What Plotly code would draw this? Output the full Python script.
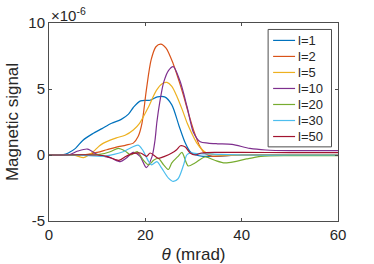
import plotly.graph_objects as go

# theta (mrad) and signal (x1e-6) for each l
x_l1 = [0, 2, 3, 4, 5.5, 7, 9, 11, 13, 15, 16.5, 17.5, 19, 21, 22.5, 24, 25.5, 27, 28.3, 29.3, 30.5, 32, 34, 37, 40, 50, 60]
y_l1 = [0, 0, 0.03, 0.15, 0.5, 1.1, 1.6, 2.0, 2.4, 2.7, 3.1, 3.6, 4.1, 4.15, 4.4, 4.4, 3.8, 2.2, 0.9, 0.25, 0.0, -0.1, -0.1, -0.05, 0, 0, 0]

x_l2 = [0, 5, 8, 10, 12, 14, 16, 17.5, 18.5, 19.3, 20.2, 21.2, 22.2, 23.2, 24.3, 25.8, 27, 28, 29, 30, 31.4, 32.5, 34, 37, 40, 50, 60]
y_l2 = [0, 0, 0.05, 0.2, 0.4, 0.6, 0.75, 0.9, 1.4, 2.4, 4.9, 7.2, 8.2, 8.4, 8.1, 6.9, 5.6, 4.4, 3.1, 1.9, 0.6, 0.1, -0.1, -0.05, 0, 0, 0]

x_l5 = [0, 5, 7.2, 8.3, 9.5, 10.5, 11.3, 12.7, 14, 15.8, 17.5, 18.8, 20.6, 22.3, 23.5, 24.5, 25.5, 26.6, 27.7, 28.7, 29.7, 30.7, 31.8, 32.8, 35, 40, 50, 60]
y_l5 = [0, 0, -0.2, 0.0, 0.35, 0.7, 0.9, 1.13, 1.3, 1.5, 1.9, 2.4, 3.6, 4.9, 5.4, 5.5, 5.2, 4.4, 3.4, 2.4, 1.6, 0.9, 0.4, 0.15, 0, 0, 0, 0]

x_l10 = [0, 4, 6, 8, 10, 11.5, 13, 14.8, 16, 17.5, 18.9, 20.2, 21.4, 22.0, 22.4, 23.0, 23.8, 24.8, 25.8, 27.2, 28.7, 30, 31.4, 33, 35, 38, 41.7, 45, 50, 60]
y_l10 = [0, 0, 0.3, 0.45, 0.05, -0.1, -0.25, -0.5, -0.25, 0.2, -0.1, -0.95, -0.1, 1.1, 2.5, 4.0, 5.5, 6.4, 6.7, 5.6, 3.6, 1.7, 1.0, 0.9, 0.85, 0.8, 0.5, 0.38, 0.33, 0.33]

x_l20 = [0, 8, 10.5, 12.7, 14.4, 15.8, 17, 18.3, 19.6, 20.7, 21.7, 22.7, 23.8, 24.8, 25.5, 26.8, 27.6, 28.9, 30.3, 32.4, 34.4, 36.5, 38.6, 41, 44, 50, 60]
y_l20 = [0, 0, 0.05, 0.25, 0.5, 0.3, 0.0, 0.25, -0.4, -0.75, -0.4, -0.25, -0.75, -1.1, -0.6, -0.1, 0.2, -0.83, -0.6, -0.15, -0.4, -0.6, -0.5, -0.3, -0.1, -0.05, -0.05]

x_l30 = [0, 6, 8.3, 11.3, 13.5, 15.4, 17, 18.5, 19.4, 20.7, 21.3, 22.4, 23.4, 24.8, 25.8, 26.8, 27.9, 28.6, 29.3, 31, 35, 40, 50, 60]
y_l30 = [0, 0, -0.05, -0.1, 0.05, 0.25, 0.55, 0.75, 0.4, -0.5, -0.75, -0.5, -1.0, -1.75, -2.0, -1.8, -0.8, 0.0, 0.15, 0.1, 0.05, 0, 0, 0]

x_l50 = [0, 10, 12, 14.5, 16, 17.3, 19, 20.3, 21, 22.7, 24, 25.5, 26.5, 27.3, 28.3, 29.3, 30.3, 31.7, 35, 40, 50, 60]
y_l50 = [0, 0, -0.1, -0.4, -0.1, 0.1, 0.15, -0.1, 0.15, -0.25, -0.1, 0.15, 0.4, 0.7, 0.6, 0.15, 0.0, 0.15, 0.2, 0.2, 0.18, 0.18]

names = ["l=1", "l=2", "l=5", "l=10", "l=20", "l=30", "l=50"]
colors = ["#0072BD", "#D95319", "#EDB120", "#7E2F8E", "#77AC30", "#4DBEEE", "#A2142F"]
xs = [x_l1, x_l2, x_l5, x_l10, x_l20, x_l30, x_l50]
ys = [y_l1, y_l2, y_l5, y_l10, y_l20, y_l30, y_l50]
scale = 1e-6

x_ticks = [0, 20, 40, 60]
y_ticks = [-5, 0, 5, 10]

fig = go.Figure()
for xv, yv, n, c in zip(xs, ys, names, colors):
    fig.add_trace(go.Scatter(x=xv, y=[v * scale for v in yv], mode="lines", name=n,
                             line=dict(color=c, width=1.2, shape="spline", smoothing=0.8),
                             showlegend=False))

FONT = "Liberation Sans, Arial, sans-serif"
axcol = "#4d4d4d"
W, H = 374, 264
L, R, T, B = 48.5, 36, 22.5, 42.5
pw, ph = W - L - R, H - T - B

def px2paper(px, py):
    return (px - L) / pw, (H - B - py) / ph

# custom legend (box + samples + labels)
bx0, by0 = px2paper(268, 29)
bx1, by1 = px2paper(331.5, 147)
shapes = [dict(type="rect", xref="paper", yref="paper", x0=bx0, y0=by1, x1=bx1, y1=by0,
               line=dict(color=axcol, width=1), fillcolor="white", layer="above")]
annotations = []
for i, (n, c) in enumerate(zip(names, colors)):
    py = 40 + i * 16.1
    lx0, ly = px2paper(273, py)
    lx1, _ = px2paper(295, py)
    shapes.append(dict(type="line", xref="paper", yref="paper", x0=lx0, x1=lx1, y0=ly, y1=ly,
                       line=dict(color=c, width=1.2), layer="above"))
    tx, _ = px2paper(296, py)
    annotations.append(dict(text=n, xref="paper", yref="paper", x=tx, y=ly, xanchor="left",
                            yanchor="middle", showarrow=False, font=dict(family=FONT, size=13, color="#262626")))

ax, ay = px2paper(48, 14)
annotations.append(dict(text="×10<sup>-6</sup>", xref="paper", yref="paper", x=ax, y=ay,
                        xanchor="left", yanchor="middle", showarrow=False,
                        font=dict(family=FONT, size=15, color="#262626")))

fig.update_layout(
    width=W, height=H,
    margin=dict(l=L, r=R, t=T, b=B, pad=0, autoexpand=False),
    paper_bgcolor="white", plot_bgcolor="white",
    font=dict(family=FONT, size=15, color="#262626"),
    shapes=shapes, annotations=annotations,
    xaxis=dict(range=[0, 60], tickvals=x_ticks, ticktext=[str(t) for t in x_ticks],
               automargin=False,
               showgrid=False, zeroline=False, showline=True, linecolor=axcol, linewidth=1,
               mirror="ticks", ticks="inside", ticklen=3, tickcolor=axcol,
               title=dict(text="<i>θ</i> (mrad)", font=dict(size=17), standoff=8),
               tickfont=dict(size=15)),
    yaxis=dict(range=[-5e-6, 10e-6], tickvals=[t * scale for t in y_ticks],
               ticktext=[str(t) for t in y_ticks],
               automargin=False,
               showgrid=False, zeroline=False, showline=True, linecolor=axcol, linewidth=1,
               mirror="ticks", ticks="inside", ticklen=3, tickcolor=axcol,
               title=dict(text="Magnetic signal", font=dict(size=17), standoff=5),
               tickfont=dict(size=15)),
)

fig.write_html("out.html", config={"displayModeBar": False},
               post_script="document.body.style.margin='0';document.body.style.padding='0';")
